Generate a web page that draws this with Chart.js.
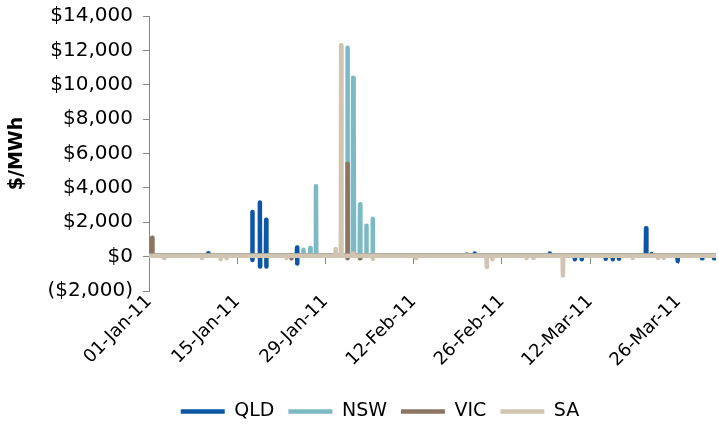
<!DOCTYPE html>
<html>
<head>
<meta charset="utf-8">
<script src="https://cdn.jsdelivr.net/npm/chart.js@4/dist/chart.umd.min.js"></script>
<style>
  html, body { margin: 0; padding: 0; background: #ffffff; }
  #chart { display: block; }
</style>
</head>
<body>
<canvas id="chart" width="719" height="425"></canvas>
<script>
// Spot prices by region, 1 Jan - 31 Mar 2011.
// Each entry is [days since 01-Jan-11, price in $/MWh].
const regions = ['QLD', 'NSW', 'VIC', 'SA'];

const qld = [
  [0, 45], [9.35, 45], [9.4, 200], [9.45, 45],
  [16.35, 45], [16.4, 2600], [16.42, -200], [16.45, 45],
  [17.55, 45], [17.6, 3150], [17.62, -580], [17.65, 45],
  [18.55, 45], [18.6, 2150], [18.62, -580], [18.65, 45],
  [23.45, 45], [23.5, 530], [23.52, -400], [23.55, 45],
  [51.65, 45], [51.7, 180], [51.75, 45],
  [63.55, 45], [63.6, 180], [63.65, 45],
  [67.55, 45], [67.6, -150], [67.65, 45],
  [68.65, 45], [68.7, -150], [68.75, 45],
  [72.45, 45], [72.5, -130], [72.55, 45],
  [73.55, 45], [73.6, -150], [73.65, 45],
  [74.55, 45], [74.6, -130], [74.65, 45],
  [78.85, 45], [78.9, 1650], [78.95, 45],
  [79.75, 45], [79.8, 150], [79.85, 45],
  [83.85, 45], [83.9, -250], [83.95, 45],
  [87.75, 45], [87.8, -100], [87.85, 45],
  [89.65, 45], [89.7, -100], [89.75, 45],
  [90, 45]
];

const nsw = [
  [0, 45],
  [24.45, 45], [24.5, 400], [24.55, 45],
  [25.55, 45], [25.6, 500], [25.65, 45],
  [26.45, 45], [26.5, 4100], [26.55, 45],
  [31.45, 45], [31.5, 12150], [31.55, 45],
  [32.35, 45], [32.4, 10400], [32.45, 45], [32.5, 9000], [32.55, 45],
  [33.45, 45], [33.5, 3050], [33.55, 45],
  [34.45, 45], [34.5, 1800], [34.55, 45],
  [35.45, 45], [35.5, 2200], [35.52, -50], [35.55, 45],
  [50.35, 45], [50.4, 150], [50.45, 45],
  [90, 45]
];

const vic = [
  [0, 45], [0.45, 45], [0.5, 1100], [0.55, 45],
  [22.55, 45], [22.6, -100], [22.65, 45],
  [31.45, 45], [31.5, 5400], [31.55, -100], [31.6, 45],
  [33.45, 45], [33.5, -100], [33.55, 45],
  [90, 45]
];

const sa = [
  [0, 45],
  [2.35, 45], [2.4, -80], [2.45, 45],
  [8.35, 45], [8.4, -80], [8.45, 45],
  [11.35, 45], [11.4, -150], [11.45, 45],
  [12.25, 45], [12.3, -100], [12.35, 45],
  [21.75, 45], [21.8, -80], [21.85, 45],
  [29.55, 45], [29.6, 450], [29.65, 45],
  [30.45, 45], [30.5, 12300], [30.55, 45],
  [32.35, 45], [32.4, 180], [32.45, 45],
  [35.45, 45], [35.5, -120], [35.55, 45],
  [42.35, 45], [42.4, -100], [42.45, 45],
  [53.55, 45], [53.6, -600], [53.65, 45],
  [54.45, 45], [54.5, -150], [54.55, 45],
  [59.85, 45], [59.9, -80], [59.95, 45],
  [60.95, 45], [61.0, -80], [61.05, 45],
  [65.65, 45], [65.7, -1100], [65.75, 45],
  [76.75, 45], [76.8, -80], [76.85, 45],
  [80.75, 45], [80.8, -80], [80.85, 45],
  [81.65, 45], [81.7, -80], [81.75, 45],
  [90, 45]
];

const seriesData = [qld, nsw, vic, sa];
const seriesColors = ['#0d56a6', '#7bb9c4', '#8b7562', '#d1c4b0'];

// Axis ranges
const yMin = -2000, yMax = 14000, yStep = 2000;
const xMin = 0, xMax = 90, xStep = 14;
const startDate = Date.UTC(2011, 0, 1);
const monthNames = ['Jan','Feb','Mar','Apr','May','Jun','Jul','Aug','Sep','Oct','Nov','Dec'];

function dateLabel(v) {
  const d = new Date(startDate + v * 86400000);
  const dd = String(d.getUTCDate()).padStart(2, '0');
  const yy = String(d.getUTCFullYear()).slice(2);
  return dd + '-' + monthNames[d.getUTCMonth()] + '-' + yy;
}

function moneyLabel(v) {
  const s = '$' + Math.abs(v).toLocaleString('en-US');
  return v < 0 ? '(' + s + ')' : s;
}

function stepTicks(scale) {
  const t = [];
  for (let v = xMin; v <= xMax; v += xStep) t.push({ value: v });
  scale.ticks = t;
}

const FONT = 'Verdana, "DejaVu Sans", sans-serif';
const AXIS_GREY = '#868686';

// Moves the legend row a little right and down, under the plot.
const legendShift = {
  id: 'legendShift',
  afterLayout(chart) {
    const lg = chart.legend;
    if (lg) {
      lg.left += 20; lg.right += 20;
      lg.top += 6; lg.bottom += 6;
    }
  }
};

new Chart(document.getElementById('chart'), {
  type: 'line',
  data: {
    datasets: regions.map((name, i) => ({
      label: name,
      data: seriesData[i].map(p => ({ x: p[0], y: p[1] })),
      borderColor: seriesColors[i],
      backgroundColor: seriesColors[i],
      borderWidth: 4.5,
      borderCapStyle: 'round',
      borderJoinStyle: 'round',
      pointRadius: 0,
      tension: 0,
      fill: false,
      order: regions.length - i
    }))
  },
  options: {
    responsive: false,
    animation: false,
    layout: { padding: { left: 4, right: 3, top: 0, bottom: 0 } },
    plugins: {
      tooltip: { enabled: false },
      legend: {
        position: 'bottom',
        labels: {
          usePointStyle: true,
          pointStyle: 'line',
          pointStyleWidth: 44,
          padding: 14,
          color: '#000000',
          font: { family: FONT, size: 19 },
          sort: (a, b) => a.datasetIndex - b.datasetIndex
        }
      }
    },
    scales: {
      x: {
        type: 'linear',
        position: 'bottom',
        min: xMin,
        max: xMax,
        afterBuildTicks: stepTicks,
        afterFit(scale) { scale.height = 91; },
        grid: { display: false },
        border: { display: false },
        ticks: {
          autoSkip: false,
          maxRotation: 45,
          minRotation: 45,
          padding: -8,
          color: '#000000',
          font: { family: FONT, size: 18 },
          callback: v => dateLabel(v)
        }
      },
      xZero: {
        type: 'linear',
        position: { y: 0 },
        min: xMin,
        max: xMax,
        afterBuildTicks: stepTicks,
        grid: { drawOnChartArea: false, drawTicks: true, tickLength: 7, color: AXIS_GREY, lineWidth: 1 },
        border: { display: false },
        ticks: { display: false }
      },
      y: {
        min: yMin,
        max: yMax,
        afterFit(scale) { scale.width = 145; scale.paddingTop = 16; },
        ticks: {
          stepSize: yStep,
          padding: 10,
          color: '#000000',
          font: { family: FONT, size: 20 },
          callback: v => moneyLabel(v)
        },
        grid: { drawOnChartArea: false, drawTicks: true, tickLength: 6, color: AXIS_GREY },
        border: { display: true, color: AXIS_GREY, width: 1 },
        title: {
          display: true,
          text: '$/MWh',
          color: '#000000',
          padding: { top: 2, bottom: 0 },
          font: { family: FONT, size: 19, weight: 'bold' }
        }
      }
    }
  },
  plugins: [legendShift]
});
</script>
</body>
</html>
